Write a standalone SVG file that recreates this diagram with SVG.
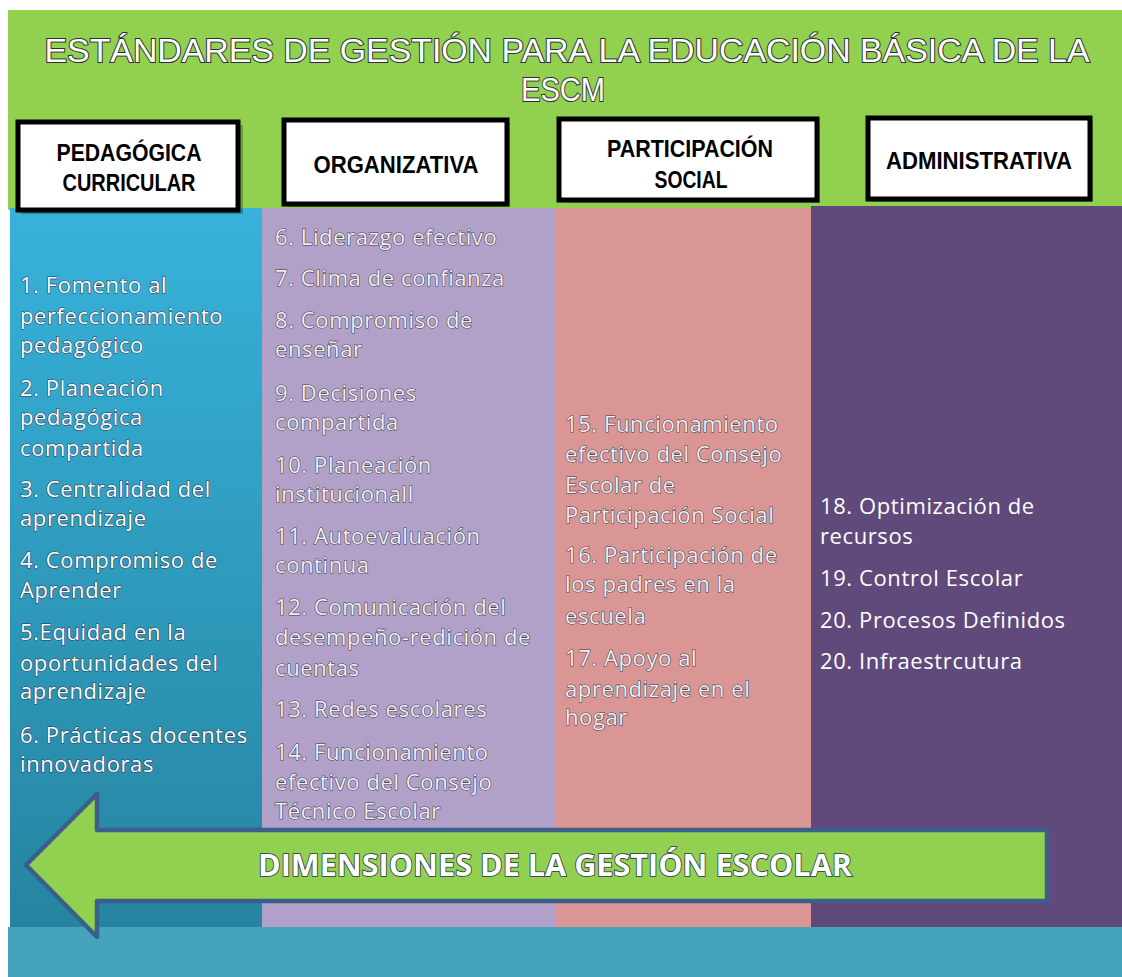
<svg xmlns="http://www.w3.org/2000/svg" width="1122" height="977" viewBox="0 0 1122 977">
<defs>
<linearGradient id="blueGrad" x1="0" y1="0" x2="0" y2="1">
<stop offset="0" stop-color="#37b2da"/>
<stop offset="1" stop-color="#2684a0"/>
</linearGradient>
<style>
.title{font-family:"Liberation Sans",Arial,sans-serif;font-size:34px;fill:#ffffff;stroke:#2a2f36;stroke-width:2;paint-order:stroke;text-anchor:middle;}
.box{fill:#ffffff;stroke:#000000;stroke-width:5;}
.shadow{fill:#000000;opacity:0.25;}
.hl{font-family:"Liberation Sans",Arial,sans-serif;font-weight:bold;font-size:23px;fill:#000000;text-anchor:middle;}
.ct{font-family:"Open Sans","Liberation Sans",sans-serif;font-size:22px;letter-spacing:0.6px;fill:#ffffff;stroke:#2b3550;stroke-width:1.1;paint-order:stroke;}
.ct2{font-family:"Open Sans","Liberation Sans",sans-serif;font-size:22px;letter-spacing:0.6px;fill:#f2eff6;stroke:#3a3a48;stroke-width:1.1;paint-order:stroke;}
.ct3{font-family:"Open Sans","Liberation Sans",sans-serif;font-size:22px;letter-spacing:0.6px;fill:#ffffff;}
.arrowtxt{font-family:"Open Sans","Liberation Sans",sans-serif;font-weight:bold;font-size:30px;fill:#ffffff;stroke:#2b3550;stroke-width:1.6;paint-order:stroke;}
</style>
</defs>
<rect x="0" y="0" width="1122" height="977" fill="#ffffff"/>
<g id="header">
<rect x="8" y="10" width="1114" height="200" fill="#92d050"/>
<text class="title" x="567" y="62" textLength="1045" lengthAdjust="spacingAndGlyphs">ESTÁNDARES DE GESTIÓN PARA LA EDUCACIÓN BÁSICA DE LA</text>
<text class="title" x="563" y="101" textLength="84" lengthAdjust="spacingAndGlyphs">ESCM</text>
</g>
<g id="col-pedagogica">
<rect x="10" y="208" width="252" height="719" fill="url(#blueGrad)"/>
<text class="ct">
<tspan x="20" y="293">1. Fomento  al</tspan>
<tspan x="20" y="324">perfeccionamiento</tspan>
<tspan x="20" y="353">pedagógico</tspan>
<tspan x="20" y="396">2. Planeación</tspan>
<tspan x="20" y="425">pedagógica</tspan>
<tspan x="20" y="456">compartida</tspan>
<tspan x="20" y="497">3. Centralidad del</tspan>
<tspan x="20" y="526">aprendizaje</tspan>
<tspan x="20" y="568">4. Compromiso de</tspan>
<tspan x="20" y="598">Aprender</tspan>
<tspan x="20" y="640">5.Equidad en la</tspan>
<tspan x="20" y="671">oportunidades  del</tspan>
<tspan x="20" y="699">aprendizaje</tspan>
<tspan x="20" y="743">6. Prácticas docentes</tspan>
<tspan x="20" y="772">innovadoras</tspan>
</text>
</g>
<g id="col-organizativa">
<rect x="262" y="208" width="293" height="719" fill="#b1a0c7"/>
<text class="ct2">
<tspan x="275" y="245">6. Liderazgo efectivo</tspan>
<tspan x="275" y="286">7. Clima de confianza</tspan>
<tspan x="275" y="328">8. Compromiso de</tspan>
<tspan x="275" y="357">enseñar</tspan>
<tspan x="275" y="401">9. Decisiones</tspan>
<tspan x="275" y="430">compartida</tspan>
<tspan x="275" y="473">10. Planeación</tspan>
<tspan x="275" y="502">institucionall</tspan>
<tspan x="275" y="544">11. Autoevaluación</tspan>
<tspan x="275" y="573">continua</tspan>
<tspan x="275" y="615">12. Comunicación del</tspan>
<tspan x="275" y="645">desempeño-redición de</tspan>
<tspan x="275" y="676">cuentas</tspan>
<tspan x="275" y="717">13. Redes escolares</tspan>
<tspan x="275" y="760">14. Funcionamiento</tspan>
<tspan x="275" y="790">efectivo del Consejo</tspan>
<tspan x="275" y="819">Técnico Escolar</tspan>
</text>
</g>
<g id="col-participacion">
<rect x="555" y="208" width="256" height="719" fill="#d99694"/>
<text class="ct2">
<tspan x="565" y="432">15. Funcionamiento</tspan>
<tspan x="565" y="462">efectivo del Consejo</tspan>
<tspan x="565" y="493">Escolar de</tspan>
<tspan x="565" y="523">Participación Social</tspan>
<tspan x="565" y="563">16. Participación de</tspan>
<tspan x="565" y="592">los padres  en la</tspan>
<tspan x="565" y="624">escuela</tspan>
<tspan x="565" y="666">17. Apoyo al</tspan>
<tspan x="565" y="697">aprendizaje en el</tspan>
<tspan x="565" y="725">hogar</tspan>
</text>
</g>
<g id="col-administrativa">
<rect x="811" y="206" width="311" height="721" fill="#604a7b"/>
<text class="ct3">
<tspan x="820" y="514">18. Optimización de</tspan>
<tspan x="820" y="544">recursos</tspan>
<tspan x="820" y="586">19. Control  Escolar</tspan>
<tspan x="820" y="628">20. Procesos Definidos</tspan>
<tspan x="820" y="669">20. Infraestrcutura</tspan>
</text>
</g>
<g id="bottom-band">
<rect x="8" y="927" width="1114" height="50" fill="#46a3bd"/>
</g>
<g id="box-pedagogica">
<rect class="shadow" x="21" y="125" width="222" height="89"/>
<rect class="box" x="18" y="122" width="220" height="88"/>
<text class="hl" x="129" y="161" textLength="145" lengthAdjust="spacingAndGlyphs">PEDAGÓGICA</text>
<text class="hl" x="129" y="191" textLength="133" lengthAdjust="spacingAndGlyphs">CURRICULAR</text>
</g>
<g id="box-organizativa">
<rect class="shadow" x="287" y="123" width="223" height="84"/>
<rect class="box" x="284" y="120" width="223" height="84"/>
<text class="hl" x="396" y="173" textLength="165" lengthAdjust="spacingAndGlyphs">ORGANIZATIVA</text>
</g>
<g id="box-participacion">
<rect class="shadow" x="562" y="122" width="258" height="81"/>
<rect class="box" x="559" y="119" width="258" height="81"/>
<text class="hl" x="690" y="157" textLength="166" lengthAdjust="spacingAndGlyphs">PARTICIPACIÓN</text>
<text class="hl" x="691" y="188" textLength="73" lengthAdjust="spacingAndGlyphs">SOCIAL</text>
</g>
<g id="box-administrativa">
<rect class="shadow" x="871" y="121" width="222" height="81"/>
<rect class="box" x="868" y="118" width="222" height="81"/>
<text class="hl" x="979" y="169" textLength="186" lengthAdjust="spacingAndGlyphs">ADMINISTRATIVA</text>
</g>
<g id="arrow-dimensiones">
<path d="M26,865 L97,794 L97,830 L1047,830 L1047,901 L97,901 L97,937 Z" fill="#92d050" stroke="#3b5e8a" stroke-width="4.5" stroke-linejoin="round"/>
<text class="arrowtxt" x="258" y="876" textLength="594" lengthAdjust="spacingAndGlyphs">DIMENSIONES DE LA GESTIÓN  ESCOLAR</text>
</g>
<g id="connectors"/>
</svg>
